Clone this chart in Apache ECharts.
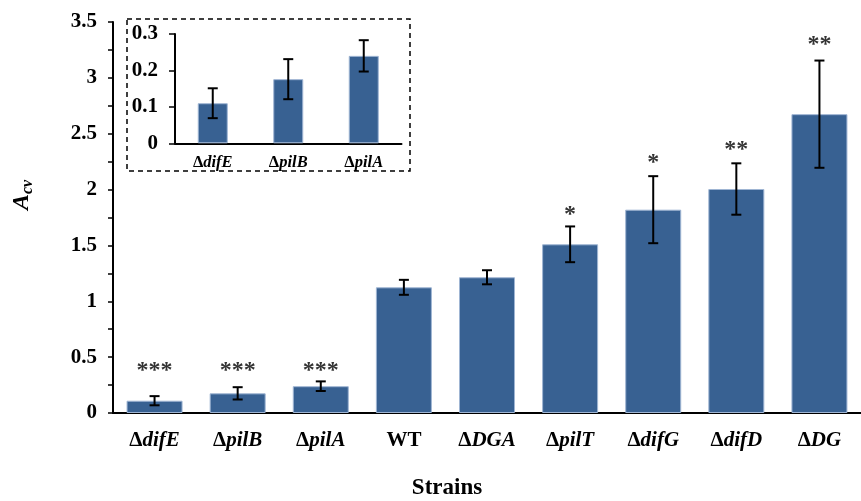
<!DOCTYPE html>
<html>
<head>
<meta charset="utf-8">
<script src="https://cdn.jsdelivr.net/npm/echarts@6/dist/echarts.min.js"></script>
<style>
  html, body { margin: 0; padding: 0; background: #fff; }
  #chart { width: 861px; height: 501px; }
</style>
</head>
<body>
<div id="chart"></div>
<script>
// strains and A_cv values
var strains = ['ΔdifE', 'ΔpilB', 'ΔpilA', 'WT', 'ΔDGA', 'ΔpilT', 'ΔdifG', 'ΔdifD', 'ΔDG'];
var acv = [0.11, 0.176, 0.24, 1.125, 1.215, 1.51, 1.82, 2.005, 2.675];
var acvErr = [0.041, 0.055, 0.043, 0.067, 0.063, 0.16, 0.30, 0.23, 0.48];
var sigMarks = ['***', '***', '***', '', '', '*', '*', '**', '**'];
var sigHeight = [0.38, 0.38, 0.38, null, null, 1.77, 2.24, 2.36, 3.30];
// inset shows the first three strains
var insetCount = 3;
var mainTicks = [0, 0.5, 1, 1.5, 2, 2.5, 3, 3.5];
var insetTicks = [0, 0.1, 0.2, 0.3];

var SERIF = '"Liberation Serif", "Times New Roman", serif';
var BAR_COLOR = '#386192';

var insetStrains = strains.slice(0, insetCount);
var insetAcv = acv.slice(0, insetCount);
var insetErr = acvErr.slice(0, insetCount);

function strainLabel(name) {
	if (name.charAt(0) === 'Δ') {
		return '{d|Δ}{i|' + name.slice(1) + '}';
	}
	return '{d|' + name + '}';
}

function labelRich(size) {
	return {
		d: { fontFamily: SERIF, fontWeight: 'bold', fontSize: size, color: '#000' },
		i: { fontFamily: SERIF, fontWeight: 'bold', fontStyle: 'italic', fontSize: size, color: '#000' }
	};
}

function errorData(vals, errs) {
	return vals.map(function(v, i) {
		return [i, v - errs[i], v + errs[i]];
	});
}

function errorRender(capHalf) {
	return function(params, api) {
		var lo = api.coord([api.value(0), api.value(1)]);
		var hi = api.coord([api.value(0), api.value(2)]);
		var st = { stroke: '#000', lineWidth: 2 };
		return {
			type: 'group',
			children: [
				{ type: 'line', shape: { x1: hi[0], y1: hi[1], x2: lo[0], y2: lo[1] }, style: st },
				{ type: 'line', shape: { x1: hi[0] - capHalf, y1: hi[1], x2: hi[0] + capHalf, y2: hi[1] }, style: st },
				{ type: 'line', shape: { x1: lo[0] - capHalf, y1: lo[1], x2: lo[0] + capHalf, y2: lo[1] }, style: st }
			]
		};
	};
}

var sigData = [];
sigMarks.forEach(function(m, i) {
	if (m) sigData.push({ value: [i, sigHeight[i]], mark: m });
});

var chart = echarts.init(document.getElementById('chart'));

var option = {
	animation: false,
	backgroundColor: '#fff',
	grid: [
		{ left: 113, top: 22, width: 758, height: 391 },
		{ left: 175, top: 34, width: 226.5, height: 109.3 }
	],
	xAxis: [{
		gridIndex: 0,
		type: 'category',
		data: strains,
		axisLine: { lineStyle: { color: '#000', width: 2 } },
		axisTick: { show: false },
		axisLabel: {
			interval: 0,
			margin: 17,
			formatter: strainLabel,
			rich: labelRich(21)
		}
	}, {
		gridIndex: 1,
		type: 'category',
		data: insetStrains,
		axisLine: { lineStyle: { color: '#000', width: 2 } },
		axisTick: { show: false },
		axisLabel: {
			interval: 0,
			margin: 11,
			formatter: strainLabel,
			rich: labelRich(16.5)
		}
	}],
	yAxis: [{
		gridIndex: 0,
		type: 'value',
		min: mainTicks[0],
		max: mainTicks[mainTicks.length - 1],
		interval: 0.5,
		splitLine: { show: false },
		axisLine: { show: true, lineStyle: { color: '#000', width: 2 } },
		axisTick: { show: true, length: 5, lineStyle: { color: '#000', width: 1.5 } },
		minorTick: { show: true, splitNumber: 2, length: 5, lineStyle: { color: '#000', width: 1.5 } },
		axisLabel: {
			margin: 16,
			color: '#000',
			fontFamily: SERIF,
			fontWeight: 'bold',
			fontSize: 21
		}
	}, {
		gridIndex: 1,
		type: 'value',
		min: insetTicks[0],
		max: insetTicks[insetTicks.length - 1],
		interval: 0.1,
		splitLine: { show: false },
		axisLine: { show: true, lineStyle: { color: '#000', width: 2 } },
		axisTick: { show: true, length: 6, lineStyle: { color: '#000', width: 1.5 } },
		axisLabel: {
			margin: 17,
			color: '#000',
			fontFamily: SERIF,
			fontWeight: 'bold',
			fontSize: 21
		}
	}],
	series: [{
		type: 'bar',
		xAxisIndex: 0,
		yAxisIndex: 0,
		data: acv,
		barWidth: 56,
		itemStyle: { color: BAR_COLOR, borderColor: '#9fb5d3', borderWidth: 1 }
	}, {
		type: 'custom',
		xAxisIndex: 0,
		yAxisIndex: 0,
		data: errorData(acv, acvErr),
		renderItem: errorRender(5),
		z: 5
	}, {
		type: 'scatter',
		xAxisIndex: 0,
		yAxisIndex: 0,
		symbolSize: 0,
		data: sigData,
		label: {
			show: true,
			position: 'inside',
			formatter: function(p) { return p.data.mark; },
			fontFamily: SERIF,
			fontWeight: 'bold',
			fontSize: 24,
			color: '#000'
		}
	}, {
		type: 'bar',
		xAxisIndex: 1,
		yAxisIndex: 1,
		data: insetAcv,
		barWidth: 30,
		itemStyle: { color: BAR_COLOR, borderColor: '#9fb5d3', borderWidth: 1 }
	}, {
		type: 'custom',
		xAxisIndex: 1,
		yAxisIndex: 1,
		data: errorData(insetAcv, insetErr),
		renderItem: errorRender(5),
		z: 5
	}],
	graphic: [{
		type: 'rect',
		shape: { x: 127, y: 19, width: 283, height: 152 },
		style: { fill: null, stroke: '#000', lineWidth: 1.5, lineDash: [5, 4] },
		z: 10
	}, {
		type: 'text',
		x: 447,
		y: 488,
		style: {
			text: 'Strains',
			fontFamily: SERIF,
			fontWeight: 'bold',
			fontSize: 23,
			fill: '#000',
			align: 'center',
			verticalAlign: 'middle'
		}
	}, {
		type: 'text',
		x: 22,
		y: 195,
		rotation: Math.PI / 2,
		style: {
			text: '{a|A}{s|cv}',
			align: 'center',
			verticalAlign: 'middle',
			rich: {
				a: { fontFamily: SERIF, fontWeight: 'bold', fontStyle: 'italic', fontSize: 24, fill: '#000' },
				s: { fontFamily: SERIF, fontWeight: 'bold', fontStyle: 'italic', fontSize: 16, fill: '#000', padding: [11, 0, 0, 0] }
			}
		}
	}]
};

chart.setOption(option);
</script>
</body>
</html>
